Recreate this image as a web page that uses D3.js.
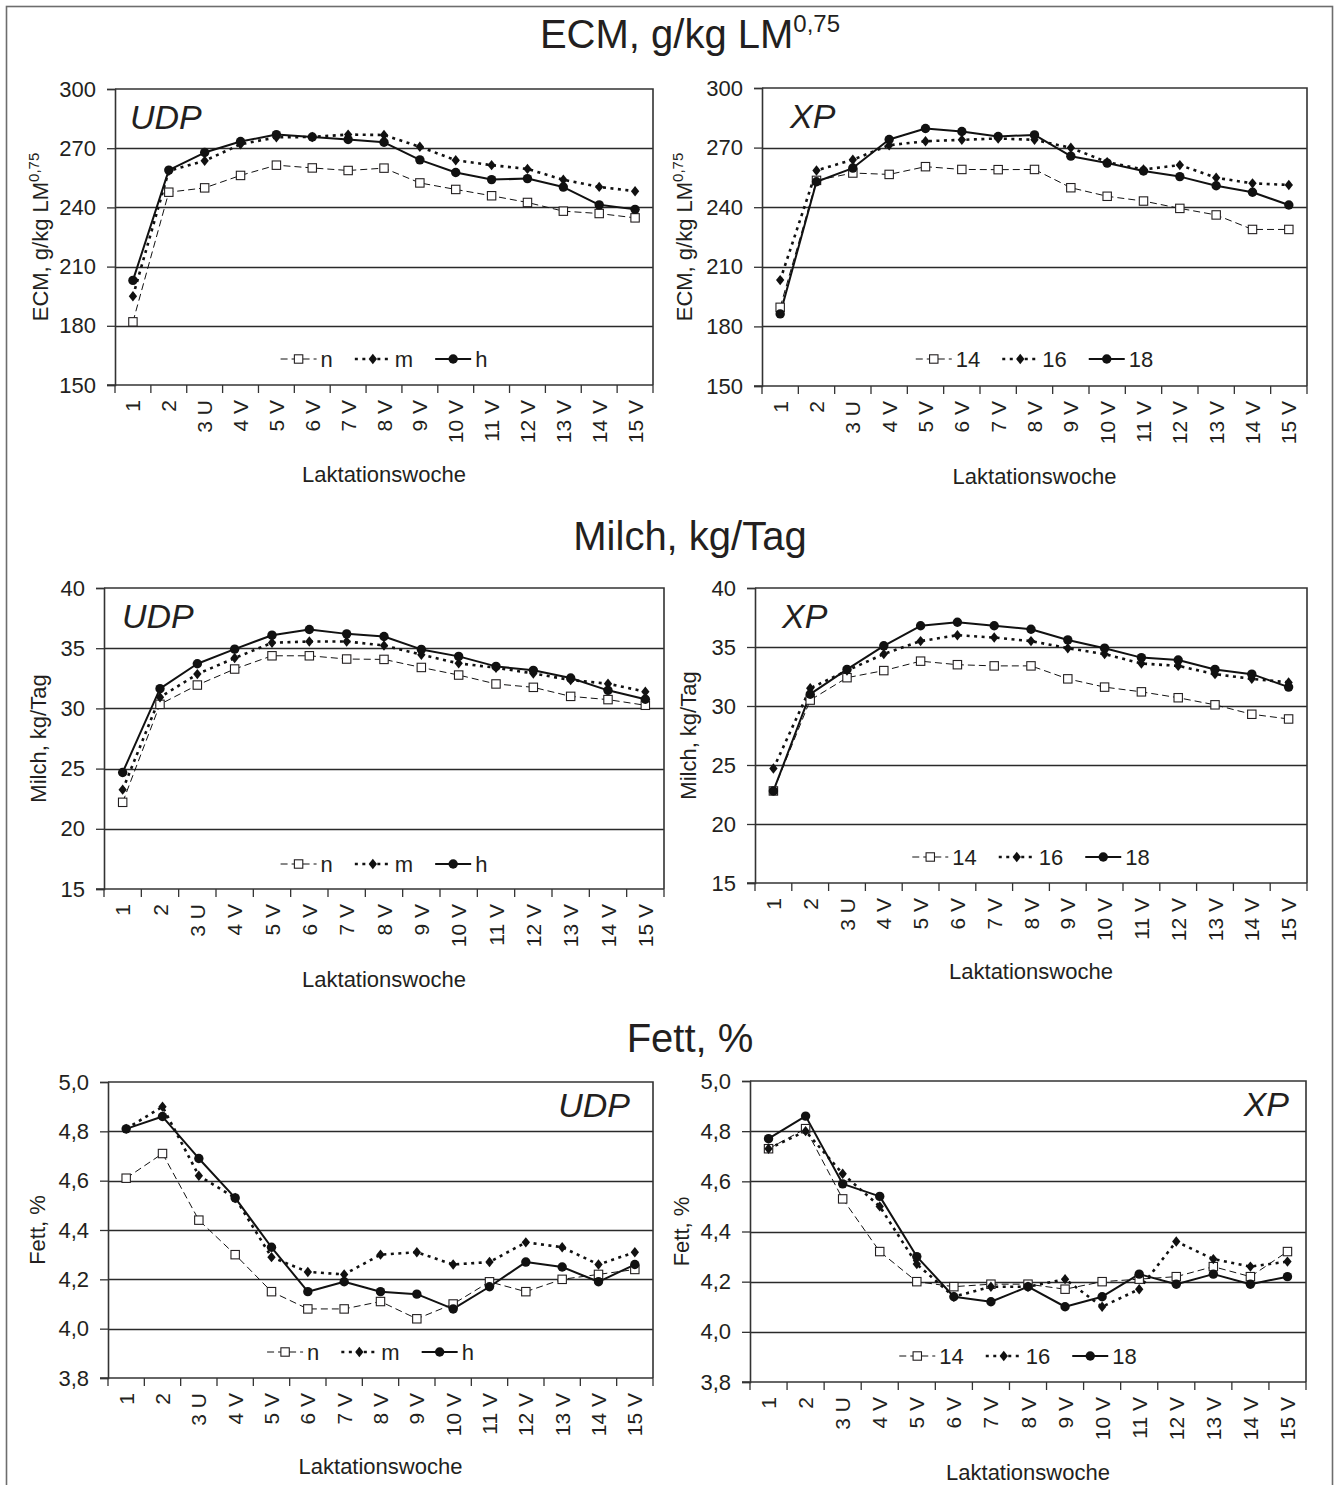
<!DOCTYPE html>
<html><head><meta charset="utf-8">
<script src="https://cdn.jsdelivr.net/npm/d3@7"></script>
<style>
body{margin:0;background:#fff}
svg text{font-family:"Liberation Sans",Arial,Helvetica,sans-serif;fill:#231f20}
</style>
</head><body>
<svg id="c" width="1339" height="1485"></svg>
<script>
// ---------- DATA ----------
const weeks = ["1","2","3 U","4 V","5 V","6 V","7 V","8 V","9 V","10 V","11 V","12 V","13 V","14 V","15 V"];

const udpNames = ["n","m","h"];
const xpNames  = ["14","16","18"];

// ECM, g/kg LM^0,75
const ecmUDP_n = [182,247.7,249.9,256.2,261.4,260,258.7,259.9,252.4,249.1,245.9,242.5,238.1,236.9,234.7];
const ecmUDP_m = [195,258.5,263.6,272,275.5,275.7,276.9,276.7,270.7,263.9,261.4,259.5,254,250.4,248.2];
const ecmUDP_h = [203,258.9,267.8,273.4,276.9,275.7,274.4,273,264.1,257.7,254.1,254.6,250.3,241.3,239];
const ecmXP_14 = [189.6,253.5,257.2,256.5,260.4,259,258.9,259,249.8,245.5,243.1,239.4,236.1,228.8,228.8];
const ecmXP_16 = [203.3,258.5,263.9,271.2,273.2,273.9,274.6,273.9,269.9,262.7,259,261.2,254.8,252,251.2];
const ecmXP_18 = [186.3,252.8,259.7,274.1,279.6,278.1,275.6,276.4,265.7,262.2,258.2,255.4,250.8,247.5,241.1];

// Milch, kg/Tag
const milchUDP_n = [22.2,30.34,31.94,33.27,34.37,34.37,34.1,34.07,33.4,32.77,32.03,31.75,31.0,30.73,30.26];
const milchUDP_m = [23.25,30.92,32.85,34.18,35.45,35.56,35.56,35.23,34.46,33.74,33.38,32.9,32.36,32.05,31.39];
const milchUDP_h = [24.68,31.64,33.71,34.92,36.08,36.55,36.19,35.97,34.9,34.32,33.49,33.16,32.52,31.5,30.76];
const milchXP_14 = [22.8,30.5,32.4,33.0,33.8,33.5,33.4,33.4,32.3,31.6,31.2,30.7,30.1,29.3,28.9];
const milchXP_16 = [24.7,31.5,33.0,34.4,35.5,36.0,35.8,35.5,34.9,34.4,33.6,33.4,32.7,32.3,32.0];
const milchXP_18 = [22.8,31.0,33.1,35.1,36.8,37.1,36.8,36.5,35.6,34.9,34.1,33.9,33.1,32.7,31.6];

// Fett, %
const fettUDP_n = [4.61,4.71,4.44,4.30,4.15,4.08,4.08,4.11,4.04,4.10,4.19,4.15,4.20,4.22,4.24];
const fettUDP_m = [4.81,4.90,4.62,4.53,4.29,4.23,4.22,4.30,4.31,4.26,4.27,4.35,4.33,4.26,4.31];
const fettUDP_h = [4.81,4.86,4.69,4.53,4.33,4.15,4.19,4.15,4.14,4.08,4.17,4.27,4.25,4.19,4.26];
const fettXP_14 = [4.73,4.81,4.53,4.32,4.20,4.18,4.19,4.19,4.17,4.20,4.21,4.22,4.26,4.22,4.32];
const fettXP_16 = [4.73,4.80,4.63,4.50,4.27,4.14,4.18,4.18,4.21,4.10,4.17,4.36,4.29,4.26,4.28];
const fettXP_18 = [4.77,4.86,4.59,4.54,4.30,4.14,4.12,4.18,4.10,4.14,4.23,4.19,4.23,4.19,4.22];

const ecmTicks   = [150,180,210,240,270,300];
const milchTicks = [15,20,25,30,35,40];
const fettTicks  = [3.8,4.0,4.2,4.4,4.6,4.8,5.0];

const rowTitles = ["ECM, g/kg LM", "Milch, kg/Tag", "Fett, %"];
const yLabels   = ["ECM, g/kg LM", "Milch, kg/Tag", "Fett, %"];
const xTitle = "Laktationswoche";

// ---------- LAYOUT ----------
const svg = d3.select("#c");
const FONT_TICK = 22;

svg.append("rect").attr("x",6.5).attr("y",6.5).attr("width",1326).attr("height",1500)
  .attr("fill","none").attr("stroke","#6d6d6d").attr("stroke-width",1.6);

const panels = [
  {box:[115,653,89,385], ticks:ecmTicks, data:[ecmUDP_n,ecmUDP_m,ecmUDP_h], names:udpNames, tag:"UDP",
   tagX:130, tagY:129, tagAnchor:"start", ylab:0, sup:true, ylx:40, legY:359, legDx:0, xtY:482, fmt:d=>String(d)},
  {box:[762,1307,88,386], ticks:ecmTicks, data:[ecmXP_14,ecmXP_16,ecmXP_18], names:xpNames, tag:"XP",
   tagX:790, tagY:128, tagAnchor:"start", ylab:0, sup:true, ylx:684, legY:359, legDx:0, xtY:484, fmt:d=>String(d)},
  {box:[104,664,588,889], ticks:milchTicks, data:[milchUDP_n,milchUDP_m,milchUDP_h], names:udpNames, tag:"UDP",
   tagX:122, tagY:628, tagAnchor:"start", ylab:1, sup:false, ylx:38, legY:864, legDx:0, xtY:987, fmt:d=>String(d)},
  {box:[755,1307,588,883], ticks:milchTicks, data:[milchXP_14,milchXP_16,milchXP_18], names:xpNames, tag:"XP",
   tagX:782, tagY:628, tagAnchor:"start", ylab:1, sup:false, ylx:688, legY:857, legDx:0, xtY:979, fmt:d=>String(d)},
  {box:[108,653,1082,1378], ticks:fettTicks, data:[fettUDP_n,fettUDP_m,fettUDP_h], names:udpNames, tag:"UDP",
   tagX:630, tagY:1117, tagAnchor:"end", ylab:2, sup:false, ylx:37, legY:1352, legDx:-10, xtY:1474, fmt:d=>d.toFixed(1).replace(".",",")},
  {box:[750,1306,1081,1382], ticks:fettTicks, data:[fettXP_14,fettXP_16,fettXP_18], names:xpNames, tag:"XP",
   tagX:1289, tagY:1116, tagAnchor:"end", ylab:2, sup:false, ylx:681, legY:1356, legDx:-10, xtY:1480, fmt:d=>d.toFixed(1).replace(".",",")}
];

// series styles: 0 = dashed + open square, 1 = dotted + diamond, 2 = solid + circle
const styles = [
  {w:1, dash:"7,4", marker:"square"},
  {w:2.6, dash:"3,4.5", marker:"diamond"},
  {w:2, dash:null, marker:"circle"}
];

function drawMarker(g, type, cx, cy){
  if(type==="square"){
    g.append("rect").attr("x",cx-4.2).attr("y",cy-4.2).attr("width",8.4).attr("height",8.4)
     .attr("fill","#fff").attr("stroke","#231f20").attr("stroke-width",1.1);
  } else if(type==="diamond"){
    const s=5.2;
    g.append("path").attr("d",`M${cx},${cy-s}L${cx+s*0.8},${cy}L${cx},${cy+s}L${cx-s*0.8},${cy}Z`)
     .attr("fill","#111");
  } else {
    g.append("circle").attr("cx",cx).attr("cy",cy).attr("r",4.7).attr("fill","#111");
  }
}

// Row titles
const titleY = [48, 550, 1052];
rowTitles.forEach((t,i)=>{
  const tx = svg.append("text").attr("x",690).attr("y",titleY[i]).attr("text-anchor","middle")
    .attr("font-size",40).text(t);
  if(i===0){
    tx.append("tspan").attr("font-size",24).attr("dy",-16).text("0,75");
  }
});

panels.forEach(p=>{
  const [x0,x1,y0,y1] = p.box;
  const g = svg.append("g");
  const x = d3.scaleBand().domain(weeks).range([x0,x1]).padding(0);
  const y = d3.scaleLinear().domain([p.ticks[0], p.ticks[p.ticks.length-1]]).range([y1,y0]);
  const cx = d => x(d) + x.bandwidth()/2;

  // gridlines
  g.selectAll(".grid").data(p.ticks.slice(1,-1)).enter().append("line")
    .attr("x1",x0).attr("x2",x1).attr("y1",d=>Math.round(y(d))+0.5).attr("y2",d=>Math.round(y(d))+0.5)
    .attr("stroke","#2a2a2a").attr("stroke-width",1.3);

  // frame top/right
  g.append("path").attr("d",`M${x0},${y0}H${x1}V${y1}`).attr("fill","none")
    .attr("stroke","#333").attr("stroke-width",1.6);

  // y axis
  const ya = g.append("g").attr("transform",`translate(${x0},0)`)
    .call(d3.axisLeft(y).tickValues(p.ticks).tickFormat(p.fmt).tickSize(8).tickPadding(11));
  ya.select(".domain").attr("stroke","#333").attr("stroke-width",1.6);
  ya.selectAll(".tick line").attr("stroke","#333").attr("stroke-width",1.3);
  ya.selectAll(".tick text").attr("font-size",FONT_TICK).attr("font-family",null);

  // x axis line + boundary ticks
  g.append("line").attr("x1",x0-8).attr("x2",x1).attr("y1",y1).attr("y2",y1)
    .attr("stroke","#333").attr("stroke-width",1.6);
  const bounds = weeks.map(d=>x(d)).concat([x1]);
  g.selectAll(".xt").data(bounds).enter().append("line")
    .attr("x1",d=>d).attr("x2",d=>d).attr("y1",y1).attr("y2",y1+8)
    .attr("stroke","#333").attr("stroke-width",1.3);
  g.selectAll(".xl").data(weeks).enter().append("text")
    .attr("transform",d=>`translate(${cx(d)},${y1+15}) rotate(-90)`)
    .attr("text-anchor","end").attr("dy","0.36em").attr("font-size",21).text(d=>d);

  // x title
  g.append("text").attr("x",(x0+x1)/2).attr("y",p.xtY).attr("text-anchor","middle")
    .attr("font-size",22).text(xTitle);

  // y label
  const yl = g.append("text").attr("transform",`translate(${p.ylx},${(y0+y1)/2}) rotate(-90)`)
    .attr("text-anchor","middle").attr("dy","0.35em").attr("font-size",22).text(yLabels[p.ylab]);
  if(p.sup){ yl.append("tspan").attr("font-size",15).attr("dy",-9).text("0,75"); }

  // tag
  g.append("text").attr("x",p.tagX).attr("y",p.tagY).attr("text-anchor",p.tagAnchor)
    .attr("font-size",34).attr("font-style","italic").text(p.tag);

  // series lines
  p.data.forEach((vals,si)=>{
    const st = styles[si];
    const line = d3.line().x((v,i)=>cx(weeks[i])).y(v=>y(v));
    g.append("path").datum(vals).attr("d",line).attr("fill","none")
      .attr("stroke","#111").attr("stroke-width",st.w)
      .attr("stroke-dasharray",st.dash).attr("stroke-linejoin","round");
  });
  p.data.forEach((vals,si)=>{
    const st = styles[si];
    vals.forEach((v,i)=>drawMarker(g, st.marker, cx(weeks[i]), y(v)));
  });

  // legend
  const lg = g.append("g");
  let cur = 0;
  p.names.forEach((nm,si)=>{
    const it = lg.append("g").attr("transform",`translate(${cur},0)`);
    const st = styles[si];
    it.append("line").attr("x1",0).attr("x2",36).attr("y1",0).attr("y2",0)
      .attr("stroke","#111").attr("stroke-width",st.w).attr("stroke-dasharray",st.dash);
    drawMarker(it, st.marker, 18, 0);
    const t = it.append("text").attr("x",40).attr("y",0).attr("dy","0.35em").attr("font-size",22).text(nm);
    const w = 40 + t.node().getComputedTextLength();
    cur += w + 22;
  });
  const total = cur - 22;
  lg.attr("transform",`translate(${(x0+x1)/2 - total/2 + p.legDx},${p.legY})`);
});
</script>
</body></html>
